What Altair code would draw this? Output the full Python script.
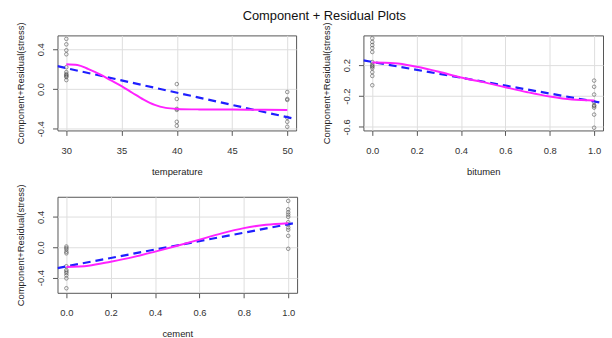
import altair as alt
import pandas as pd

FONT = "Liberation Sans"

# ---- temperature panel ----
temp_pts_x = [30]*11 + [40]*6 + [50]*6
temp_pts_y = [0.505, 0.45, 0.39, 0.35, 0.22, 0.17, 0.15, 0.14, 0.13, 0.12, 0.09,
              0.05, -0.10, -0.20, -0.21, -0.33, -0.37,
              -0.03, -0.10, -0.11, -0.29, -0.33, -0.38]
temp_lin_x = [29.2, 50.8]
temp_lin_y = [0.23, -0.303]
temp_smo_x = [30, 31, 32, 33, 34, 35, 36, 37, 38, 39, 40, 42, 45, 48, 50]
temp_smo_y = [0.25, 0.243, 0.20, 0.15, 0.09, 0.03, -0.04, -0.107, -0.16, -0.19, -0.20,
              -0.205, -0.207, -0.209, -0.21]

# ---- bitumen panel ----
bit_pts_x = [0]*13 + [1]*9
bit_pts_y = [0.548, 0.50, 0.46, 0.42, 0.37, 0.24, 0.21, 0.19, 0.18, 0.16, 0.11, 0.06, -0.06,
             0.0, -0.08, -0.18, -0.28, -0.32, -0.33, -0.35, -0.44, -0.61]
bit_lin_x = [-0.04, 1.04]
bit_lin_y = [0.262, -0.29]
bit_smo_x = [0, 0.1, 0.2, 0.3, 0.4, 0.5, 0.6, 0.7, 0.8, 0.9, 1.0]
bit_smo_y = [0.234, 0.226, 0.18, 0.115, 0.04, -0.02, -0.086, -0.15, -0.206, -0.245, -0.257]

# ---- cement panel ----
cem_pts_x = [0]*12 + [1]*11
cem_pts_y = [0.01, -0.01, -0.03, -0.06, -0.08, -0.25, -0.30, -0.32, -0.34, -0.37, -0.41, -0.54,
             0.61, 0.50, 0.46, 0.43, 0.40, 0.33, 0.30, 0.26, 0.23, 0.15, -0.02]
cem_lin_x = [-0.04, 1.04]
cem_lin_y = [-0.274, 0.325]
cem_smo_x = [0, 0.1, 0.2, 0.3, 0.4, 0.5, 0.6, 0.7, 0.8, 0.9, 1.0]
cem_smo_y = [-0.26, -0.243, -0.19, -0.13, -0.057, 0.02, 0.10, 0.183, 0.252, 0.296, 0.317]

Y_TITLE = "Component+Residual(stress)"


def label_expr(labels):
    expr = "''"
    for v, s in labels.items():
        expr = f"abs(datum.value - ({v})) < 1e-6 ? '{s}' : ({expr})"
    return expr


def panel(px, py, lx, ly, sx, sy, xname, xdom, ydom, xticks, xfmt, yticks, ylabels, w, h):
    pts = pd.DataFrame({"x": px, "y": py})
    lin = pd.DataFrame({"x": lx, "y": ly})
    smo = pd.DataFrame({"x": sx, "y": sy})
    xs = alt.Scale(domain=xdom, nice=False, zero=False)
    ys = alt.Scale(domain=ydom, nice=False, zero=False)
    xax = alt.Axis(values=xticks, format=xfmt, title=xname, grid=True)
    yax = alt.Axis(values=yticks, labelExpr=label_expr(ylabels), title=Y_TITLE, grid=True,
                   labelAngle=270, labelAlign="center", labelBaseline="bottom")
    base_pts = alt.Chart(pts).mark_point(shape="circle", filled=False, size=13,
                                         color="#444", strokeWidth=0.8).encode(
        x=alt.X("x:Q", scale=xs, axis=xax),
        y=alt.Y("y:Q", scale=ys, axis=yax),
    )
    l1 = alt.Chart(lin).mark_line(color="#1f1fff", strokeWidth=2.2, strokeDash=[8, 5],
                                  clip=True).encode(
        x=alt.X("x:Q", scale=xs), y=alt.Y("y:Q", scale=ys))
    l2 = alt.Chart(smo).mark_line(color="#ff22ff", strokeWidth=2, interpolate="monotone",
                                  clip=True).encode(
        x=alt.X("x:Q", scale=xs), y=alt.Y("y:Q", scale=ys))
    return alt.layer(base_pts, l1, l2).properties(width=w, height=h)


p1 = panel(temp_pts_x, temp_pts_y, temp_lin_x, temp_lin_y, temp_smo_x, temp_smo_y,
           "temperature", [29.2, 50.8], [-0.417, 0.54], [30, 35, 40, 45, 50], "d",
           [-0.4, -0.2, 0, 0.2, 0.4], {-0.4: "-0.4", 0: "0.0", 0.4: "0.4"}, 241, 96)
p2 = panel(bit_pts_x, bit_pts_y, bit_lin_x, bit_lin_y, bit_smo_x, bit_smo_y,
           "bitumen", [-0.04, 1.04], [-0.645, 0.585], [0, 0.2, 0.4, 0.6, 0.8, 1.0], ".1f",
           [-0.6, -0.4, -0.2, 0, 0.2, 0.4], {-0.6: "-0.6", -0.2: "-0.2", 0.2: "0.2"}, 242, 96)
p3 = panel(cem_pts_x, cem_pts_y, cem_lin_x, cem_lin_y, cem_smo_x, cem_smo_y,
           "cement", [-0.04, 1.04], [-0.6, 0.665], [0, 0.2, 0.4, 0.6, 0.8, 1.0], ".1f",
           [-0.4, -0.2, 0, 0.2, 0.4, 0.6], {-0.4: "-0.4", 0: "0.0", 0.4: "0.4"}, 242, 97)

chart = alt.concat(p1, p2, p3, columns=2, bounds="flush",
                   spacing=alt.RowColnumber(row=67, column=67)).properties(
    title=alt.TitleParams("Component + Residual Plots", font=FONT, fontSize=13,
                          fontWeight="normal", color="#111", anchor="middle", offset=-2, dx=15),
    padding={"left": 7, "top": 0, "right": 0, "bottom": 0},
    background="white",
).configure_view(
    stroke="#555", strokeWidth=1
).configure_axis(
    labelFont=FONT, labelFontSize=9.5, labelColor="#333",
    titleFont=FONT, titleFontSize=9.5, titleColor="#222", titleFontWeight="normal",
    gridColor="#dedede", gridWidth=1, domain=False,
    tickColor="#555", tickSize=5, labelPadding=7, titlePadding=10,
).configure_axisX(labelPadding=10, titlePadding=12)

chart.save("out.html", embed_options={"renderer": "svg", "actions": False})
